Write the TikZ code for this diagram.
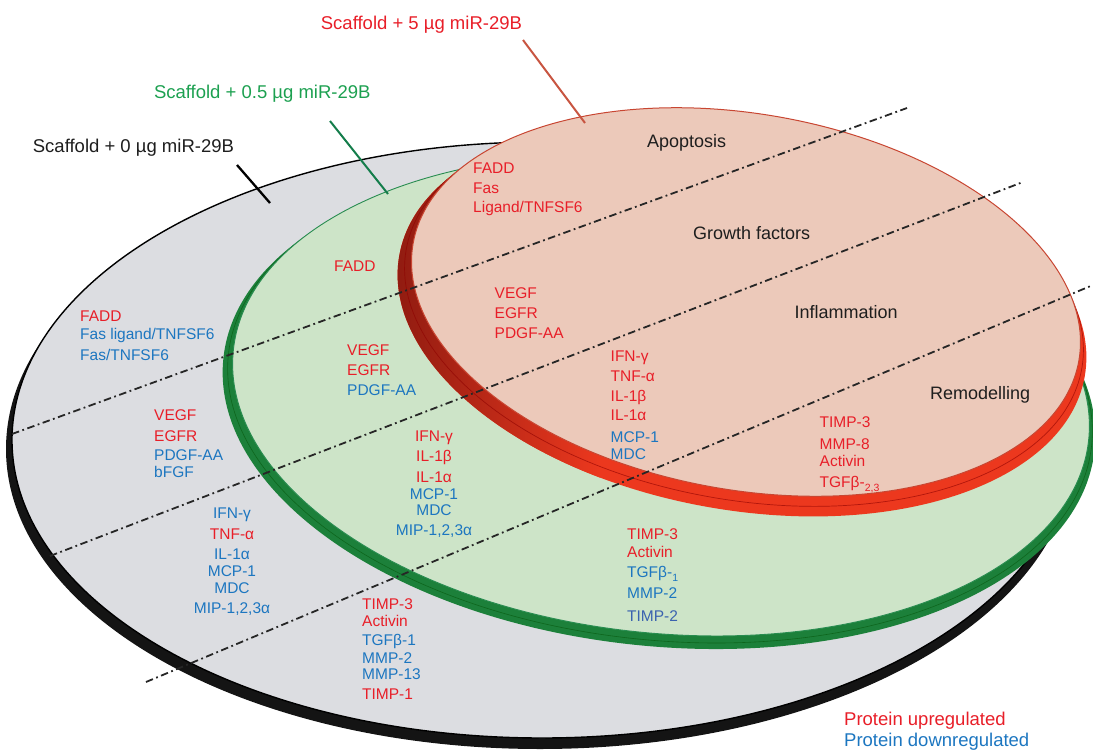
\documentclass[tikz,border=0pt]{standalone}
\usepackage{fontspec}
\setmainfont{Liberation Sans}
\definecolor{txtred}{RGB}{232,30,40}
\definecolor{txtblue}{RGB}{28,118,192}
\definecolor{txtblue2}{RGB}{58,98,175}
\definecolor{ttlgreen}{RGB}{28,160,80}
\definecolor{grayface}{RGB}{220,221,225}
\definecolor{greenface}{RGB}{205,228,200}
\definecolor{redface}{RGB}{236,201,186}
\definecolor{greenrim}{RGB}{28,128,58}
\definecolor{greenline}{RGB}{40,140,80}
\definecolor{redrimdark}{RGB}{140,26,16}
\definecolor{redrim}{RGB}{236,56,30}
\definecolor{redline}{RGB}{200,70,50}
\definecolor{leaderred}{RGB}{200,85,65}
\definecolor{leadergreen}{RGB}{20,125,75}
\definecolor{darktext}{RGB}{30,30,30}
\newcommand{\pitemL}[5]{\node[item,text=#4,anchor=base west] (#1) at (#2,#3) {#5};}
\newcommand{\pitemC}[5]{\node[item,text=#4,anchor=base] (#1) at (#2,#3) {#5};}
\newcommand{\subtxt}[1]{\raisebox{-4pt}{\fontsize{10.5}{12}\selectfont #1}}
\begin{document}
\begin{tikzpicture}[x=1pt,y=-1pt,
  item/.style={font=\fontsize{15.5}{18}\selectfont, inner sep=0pt},
  head/.style={font=\fontsize{18}{21}\selectfont, inner sep=0pt, text=darktext, anchor=base west},
  ttl/.style={font=\fontsize{18.5}{22}\selectfont, inner sep=0pt, anchor=base west},
  divider/.style={line width=1.8pt, dash pattern=on 7.5pt off 3.5pt on 1.8pt off 3.5pt, color=black!85},
  leader/.style={line width=2pt},
  redrimpath/.style={rotate around={-10:(742,316)}},
]
\useasboundingbox (0,0) rectangle (1093,752);

% ---- gray disk (0 ug)
\fill[black!92] (540,449) ellipse [x radius=534pt, y radius=300pt];
\filldraw[fill=grayface, draw=black, line width=1.4pt] (542,440) ellipse [x radius=530pt, y radius=298pt];

% ---- green disk (0.5 ug)
\fill[greenrim, rotate around={-6:(659,404)}] (659,404) ellipse [x radius=438pt, y radius=242pt];
\draw[green!30!black, line width=0.6pt, opacity=.5, rotate around={-6:(660,400)}] (660,400) ellipse [x radius=434pt, y radius=240pt];
\filldraw[fill=greenface, draw=greenline, line width=0.9pt, rotate around={-6:(661,395)}] (661,395) ellipse [x radius=430pt, y radius=238pt];

% ---- red disk (5 ug)
\fill[redrim, redrimpath] (742,316) ellipse [x radius=348pt, y radius=194pt];
\begin{scope}
  \clip[redrimpath] (742,316) ellipse [x radius=348pt, y radius=194pt];
  \shade[left color=redrimdark, right color=redrim] (385,90) rectangle (600,530);
\end{scope}
\draw[red!55!black, line width=0.7pt, opacity=.6, rotate around={-10:(744,309)}] (744,309) ellipse [x radius=343pt, y radius=191pt];
\filldraw[fill=redface, draw=redline, line width=1pt, rotate around={-10:(746,302)}] (746,302) ellipse [x radius=338pt, y radius=188pt];

% ---- dividers
\coordinate (d1a) at (12,434);  \coordinate (d1b) at (907,108);
\coordinate (d2a) at (50,556);  \coordinate (d2b) at (1023,182);
\coordinate (d3a) at (146,682); \coordinate (d3b) at (1093,285);
\draw[divider] (d1a) -- (d1b);
\draw[divider] (d2a) -- (d2b);
\draw[divider] (d3a) -- (d3b);

% ---- leaders
\coordinate (k0a) at (237,165); \coordinate (k0b) at (270,203);
\coordinate (k1a) at (330,121); \coordinate (k1b) at (388,194);
\coordinate (k2a) at (523,40);  \coordinate (k2b) at (585,123);
\draw[leader, black, line width=2.3pt] (k0a) -- (k0b);
\draw[leader, leadergreen] (k1a) -- (k1b);
\draw[leader, leaderred] (k2a) -- (k2b);

% ---- titles
\node[ttl, text=txtred] (t5) at (320.7,29.3) {Scaffold + 5 µg miR-29B};
\node[ttl, text=ttlgreen] (t05) at (153.8,99) {Scaffold + 0.5 µg miR-29B};
\node[ttl, text=darktext] (t0) at (32.7,152) {Scaffold + 0 µg miR-29B};

% ---- category headings
\node[head] (hA) at (647,147) {Apoptosis};
\node[head] (hG) at (693,239) {Growth factors};
\node[head] (hI) at (794.5,318) {Inflammation};
\node[head] (hR) at (930,399) {Remodelling};

% ---- gray disk lists
\pitemL{ga1}{80}{321}{txtred}{FADD}
\pitemL{ga2}{80}{339.5}{txtblue}{Fas ligand/TNFSF6}
\pitemL{ga3}{80}{360}{txtblue}{Fas/TNFSF6}
\pitemL{gg1}{154}{420}{txtred}{VEGF}
\pitemL{gg2}{154}{441}{txtred}{EGFR}
\pitemL{gg3}{154}{460}{txtblue}{PDGF-AA}
\pitemL{gg4}{154}{477}{txtblue}{bFGF}
\pitemC{gi1}{232}{518}{txtblue}{IFN-γ}
\pitemC{gi2}{232}{539}{txtred}{TNF-α}
\pitemC{gi3}{232}{559}{txtblue}{IL-1α}
\pitemC{gi4}{232}{576}{txtblue}{MCP-1}
\pitemC{gi5}{232}{593}{txtblue}{MDC}
\pitemC{gi6}{232}{613}{txtblue}{MIP-1,2,3α}
\pitemL{gr1}{362}{609}{txtred}{TIMP-3}
\pitemL{gr2}{362}{626}{txtred}{Activin}
\pitemL{gr3}{362}{645}{txtblue}{TGFβ-1}
\pitemL{gr4}{362}{663}{txtblue}{MMP-2}
\pitemL{gr5}{362}{679}{txtblue}{MMP-13}
\pitemL{gr6}{362}{699}{txtred}{TIMP-1}

% ---- green disk lists
\pitemL{na1}{334}{271}{txtred}{FADD}
\pitemL{ng1}{347}{355}{txtred}{VEGF}
\pitemL{ng2}{347}{375}{txtred}{EGFR}
\pitemL{ng3}{347}{395}{txtblue}{PDGF-AA}
\pitemC{ni1}{434}{441}{txtred}{IFN-γ}
\pitemC{ni2}{434}{461}{txtred}{IL-1β}
\pitemC{ni3}{434}{482}{txtred}{IL-1α}
\pitemC{ni4}{434}{499}{txtblue}{MCP-1}
\pitemC{ni5}{434}{515}{txtblue}{MDC}
\pitemC{ni6}{434}{535}{txtblue}{MIP-1,2,3α}
\pitemL{nr1}{627}{539}{txtred}{TIMP-3}
\pitemL{nr2}{627}{557}{txtred}{Activin}
\pitemL{nr3}{627}{577}{txtblue}{TGFβ-\subtxt{1}}
\pitemL{nr4}{627}{598}{txtblue}{MMP-2}
\pitemL{nr5}{627}{621}{txtblue2}{TIMP-2}

% ---- red disk lists
\pitemL{ra1}{473}{173}{txtred}{FADD}
\pitemL{ra2}{473}{193}{txtred}{Fas}
\pitemL{ra3}{473}{212}{txtred}{Ligand/TNFSF6}
\pitemL{rg1}{494.5}{298}{txtred}{VEGF}
\pitemL{rg2}{494.5}{318}{txtred}{EGFR}
\pitemL{rg3}{494.5}{338}{txtred}{PDGF-AA}
\pitemL{ri1}{610.5}{361}{txtred}{IFN-γ}
\pitemL{ri2}{610.5}{381}{txtred}{TNF-α}
\pitemL{ri3}{610.5}{401}{txtred}{IL-1β}
\pitemL{ri4}{610.5}{420}{txtred}{IL-1α}
\pitemL{ri5}{610.5}{442}{txtblue}{MCP-1}
\pitemL{ri6}{610.5}{459}{txtblue}{MDC}
\pitemL{rr1}{819.5}{427}{txtred}{TIMP-3}
\pitemL{rr2}{819.5}{449}{txtred}{MMP-8}
\pitemL{rr3}{819.5}{466}{txtred}{Activin}
\pitemL{rr4}{819.5}{487}{txtred}{TGFβ-\subtxt{2,3}}

% ---- legend
\node[ttl, text=txtred] (lg1) at (844,725) {Protein upregulated};
\node[ttl, text=txtblue] (lg2) at (844,746) {Protein downregulated};
\end{tikzpicture}
\end{document}
